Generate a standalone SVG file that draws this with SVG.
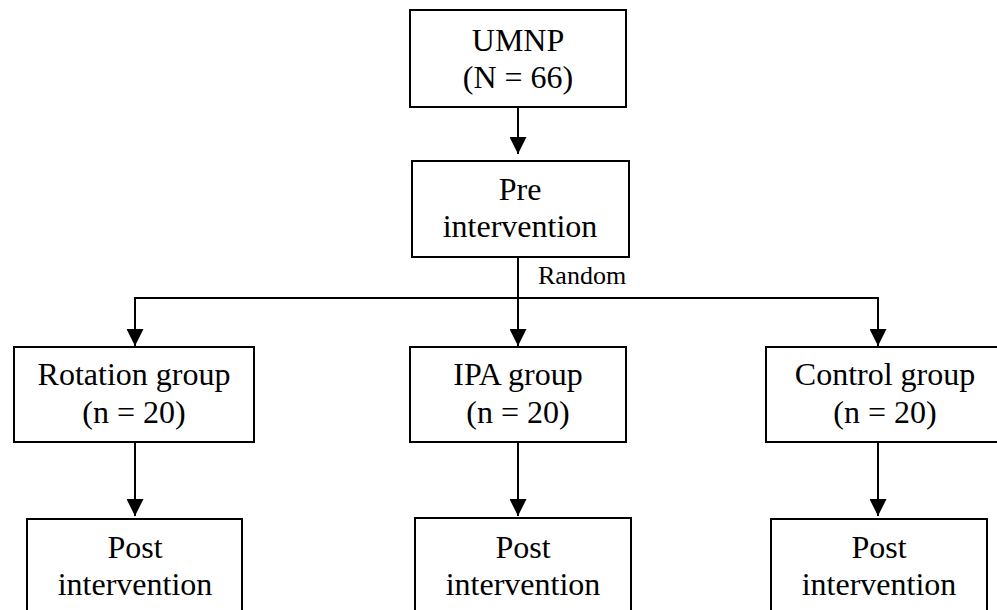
<svg xmlns="http://www.w3.org/2000/svg" width="997" height="610" viewBox="0 0 997 610">
<style>
.box{fill:#fff;stroke:#000;stroke-width:2}
.t{font-family:"Liberation Serif","Times New Roman",serif;font-size:32px;fill:#000;text-anchor:middle}
.s{font-family:"Liberation Serif","Times New Roman",serif;font-size:26px;fill:#000}
.ln{fill:none;stroke:#000;stroke-width:2}
</style>
<defs>
<marker id="ah" markerUnits="userSpaceOnUse" markerWidth="17" markerHeight="17" viewBox="0 0 17 17" refX="17" refY="8.5" orient="auto">
<path d="M0,0 L17,8.5 L0,17 Z" fill="#000"/>
</marker>
</defs>
<rect width="997" height="610" fill="#fff"/>
<g id="connectors">
<line class="ln" x1="518" y1="107" x2="518" y2="154" marker-end="url(#ah)"/>
<line class="ln" x1="518" y1="257" x2="518" y2="346" marker-end="url(#ah)"/>
<polyline class="ln" points="135,298 878,298"/>
<line class="ln" x1="135" y1="297" x2="135" y2="346" marker-end="url(#ah)"/>
<line class="ln" x1="878" y1="297" x2="878" y2="346" marker-end="url(#ah)"/>
<line class="ln" x1="135" y1="442" x2="135" y2="516" marker-end="url(#ah)"/>
<line class="ln" x1="518" y1="442" x2="518" y2="516" marker-end="url(#ah)"/>
<line class="ln" x1="878" y1="442" x2="878" y2="516" marker-end="url(#ah)"/>
<text class="s" x="538" y="284">Random</text>
</g>
<g id="umnp">
<rect class="box" x="410" y="10" width="216" height="97"/>
<text class="t" x="518" y="51">UMNP</text>
<text class="t" x="518" y="88">(N = 66)</text>
</g>
<g id="pre">
<rect class="box" x="412" y="161" width="217" height="96"/>
<text class="t" x="520" y="200">Pre</text>
<text class="t" x="520" y="237">intervention</text>
</g>
<g id="rotation">
<rect class="box" x="14" y="347" width="240" height="95"/>
<text class="t" x="134" y="385">Rotation group</text>
<text class="t" x="134" y="423">(n = 20)</text>
</g>
<g id="ipa">
<rect class="box" x="410" y="347" width="216" height="95"/>
<text class="t" x="518" y="385">IPA group</text>
<text class="t" x="518" y="423">(n = 20)</text>
</g>
<g id="control">
<rect class="box" x="766" y="347" width="240" height="95"/>
<text class="t" x="885" y="385">Control group</text>
<text class="t" x="885" y="423">(n = 20)</text>
</g>
<g id="post-rotation">
<rect class="box" x="27" y="519" width="215" height="100"/>
<text class="t" x="135" y="558">Post</text>
<text class="t" x="135" y="595">intervention</text>
</g>
<g id="post-ipa">
<rect class="box" x="415" y="518" width="216" height="100"/>
<text class="t" x="523" y="558">Post</text>
<text class="t" x="523" y="595">intervention</text>
</g>
<g id="post-control">
<rect class="box" x="771" y="519" width="216" height="100"/>
<text class="t" x="879" y="558">Post</text>
<text class="t" x="879" y="595">intervention</text>
</g>
</svg>
